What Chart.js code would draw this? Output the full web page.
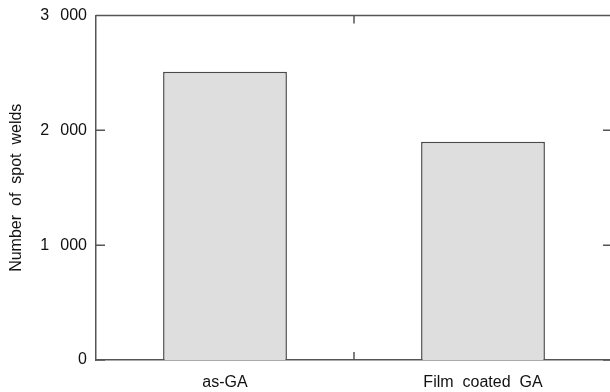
<!DOCTYPE html>
<html>
<head>
<meta charset="utf-8">
<script src="https://cdn.jsdelivr.net/npm/chart.js@4/dist/chart.umd.min.js"></script>
<style>
  html, body { margin: 0; padding: 0; background: #fff; overflow: hidden; }
  #wrap { width: 614px; height: 392px; }
</style>
</head>
<body>
<div id="wrap"><canvas id="barChart"></canvas></div>
<script>
const categories = ['as-GA', 'Film coated GA'];
const welds = [2510, 1900];
const yTicks = [0, 1000, 2000, 3000];

const axisColor = '#555';
const textColor = '#111';

function fmt(v) {
  return String(v).replace(/\B(?=(\d{3})+(?!\d))/g, '\u2002\u2009');
}

// wider word spaces, like the reference font
const spacing = {
  id: 'spacing',
  beforeLayout(chart) { chart.ctx.wordSpacing = '4.5px'; },
  beforeDraw(chart) { chart.ctx.wordSpacing = '4.5px'; }
};

// inward tick marks + top frame line
const frame = {
  id: 'frame',
  afterDraw(chart) {
    const {ctx, chartArea: a, scales: {x, y}} = chart;
    ctx.save();
    ctx.strokeStyle = axisColor;
    ctx.lineWidth = 1.5;
    ctx.beginPath();
    ctx.moveTo(a.left, a.top);
    ctx.lineTo(a.right, a.top);
    yTicks.forEach(v => {
      const py = y.getPixelForValue(v);
      ctx.moveTo(a.left, py); ctx.lineTo(a.left + 9, py);
      ctx.moveTo(a.right, py); ctx.lineTo(a.right - 9, py);
    });
    for (let i = 0; i < categories.length - 1; i++) {
      const px = (x.getPixelForValue(i) + x.getPixelForValue(i + 1)) / 2;
      ctx.moveTo(px, a.bottom); ctx.lineTo(px, a.bottom - 8);
      ctx.moveTo(px, a.top); ctx.lineTo(px, a.top + 8);
    }
    ctx.stroke();
    ctx.restore();
  }
};

Chart.defaults.font.family = 'Arial, "Liberation Sans", sans-serif';
Chart.defaults.color = textColor;

new Chart(document.getElementById('barChart'), {
  type: 'bar',
  data: {
    labels: categories,
    datasets: [{
      label: 'Number of spot welds',
      data: welds,
      backgroundColor: '#dedede',
      borderColor: '#4a4a4a',
      borderWidth: 1.5,
      categoryPercentage: 1,
      barPercentage: 0.48
    }]
  },
  options: {
    responsive: true,
    maintainAspectRatio: false,
    animation: false,
    layout: { padding: { top: 15.5, right: 2, left: 0, bottom: 0 } },
    plugins: { legend: { display: false }, tooltip: { enabled: false } },
    scales: {
      x: {
        grid: { display: false, drawTicks: false },
        border: { display: true, color: axisColor, width: 1.5 },
        ticks: { font: { size: 16 }, padding: 13, color: textColor },
        afterFit: s => { s.height = 32; s.paddingLeft = 0; s.paddingRight = 0; }
      },
      y: {
        min: 0,
        max: 3000,
        grid: { display: false, drawTicks: false },
        border: { display: true, color: axisColor, width: 1.5 },
        afterBuildTicks: s => { s.ticks = yTicks.map(v => ({ value: v })); },
        ticks: { font: { size: 16 }, padding: 9, color: textColor, callback: v => fmt(v) },
        title: { display: true, text: 'Number of spot welds', font: { size: 16 }, color: textColor, padding: { top: 7, bottom: 0 } },
        afterFit: s => { s.width = 96; s.paddingTop = 0; s.paddingBottom = 0; }
      }
    }
  },
  plugins: [spacing, frame]
});
</script>
</body>
</html>
